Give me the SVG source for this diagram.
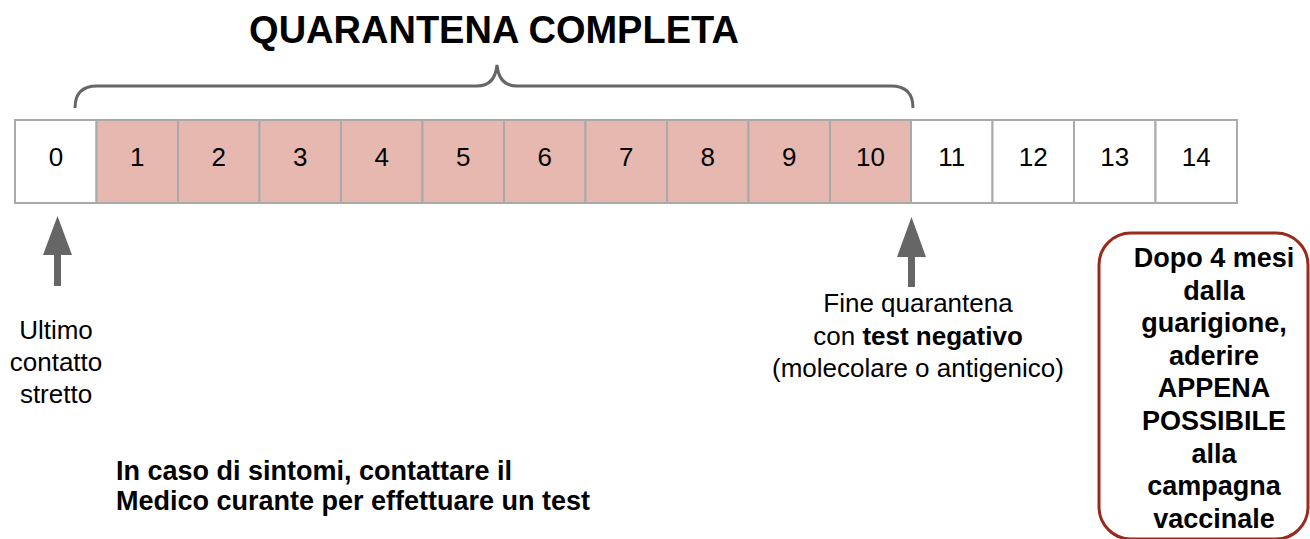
<svg xmlns="http://www.w3.org/2000/svg" width="1310" height="539" viewBox="0 0 1310 539">
<style>
.t{font-family:"Liberation Sans",Arial,sans-serif;fill:#000}
.n{font-size:26px;text-anchor:middle}
.b{font-weight:bold}
.cw{fill:#fff;stroke:#aaa;stroke-width:2}
.cp{fill:#e6b8af;stroke:#aaa;stroke-width:2}
.arr{fill:#666}
</style>
<rect width="1310" height="539" fill="#fff"/>
<g id="title"><text class="t b" x="494" y="43" font-size="38" text-anchor="middle">QUARANTENA COMPLETA</text></g>
<g id="brace"><path d="M75,108 Q75,86 97,86 L477,86 Q495,86 497,65 Q499,86 517,86 L891,86 Q913,86 913,108" fill="none" stroke="#666" stroke-width="3"/></g>
<g id="cells">
<g id="c0"><rect class="cw" x="15" y="120" width="81.5" height="83"/><text class="t n" x="56" y="166">0</text></g>
<g id="c1"><rect class="cp" x="96.5" y="120" width="81.5" height="83"/><text class="t n" x="137.2" y="166">1</text></g>
<g id="c2"><rect class="cp" x="178" y="120" width="81.5" height="83"/><text class="t n" x="218.7" y="166">2</text></g>
<g id="c3"><rect class="cp" x="259.5" y="120" width="81.5" height="83"/><text class="t n" x="300.2" y="166">3</text></g>
<g id="c4"><rect class="cp" x="341" y="120" width="81.5" height="83"/><text class="t n" x="381.7" y="166">4</text></g>
<g id="c5"><rect class="cp" x="422.5" y="120" width="81.5" height="83"/><text class="t n" x="463.2" y="166">5</text></g>
<g id="c6"><rect class="cp" x="504" y="120" width="81.5" height="83"/><text class="t n" x="544.7" y="166">6</text></g>
<g id="c7"><rect class="cp" x="585.5" y="120" width="81.5" height="83"/><text class="t n" x="626.2" y="166">7</text></g>
<g id="c8"><rect class="cp" x="667" y="120" width="81.5" height="83"/><text class="t n" x="707.7" y="166">8</text></g>
<g id="c9"><rect class="cp" x="748.5" y="120" width="81.5" height="83"/><text class="t n" x="789.2" y="166">9</text></g>
<g id="c10"><rect class="cp" x="830" y="120" width="81" height="83"/><text class="t n" x="870.5" y="166">10</text></g>
<g id="c11"><rect class="cw" x="911" y="120" width="81.5" height="83"/><text class="t n" x="951.7" y="166">11</text></g>
<g id="c12"><rect class="cw" x="992.5" y="120" width="81.5" height="83"/><text class="t n" x="1033.2" y="166">12</text></g>
<g id="c13"><rect class="cw" x="1074" y="120" width="81.5" height="83"/><text class="t n" x="1114.7" y="166">13</text></g>
<g id="c14"><rect class="cw" x="1155.5" y="120" width="81.5" height="83"/><text class="t n" x="1196.2" y="166">14</text></g>
</g>
<g id="connectors">
<path class="arr" d="M57.5,216 L72,255 L61,255 L61,286 L54,286 L54,255 L43,255 Z"/>
<path class="arr" d="M911.5,217 L926,257 L915,257 L915,287 L908,287 L908,257 L897,257 Z"/>
</g>
<g id="label-ultimo">
<text class="t n" x="56" y="339">Ultimo</text>
<text class="t n" x="56" y="371">contatto</text>
<text class="t n" x="56" y="403">stretto</text>
</g>
<g id="label-fine">
<text class="t n" x="918" y="312">Fine quarantena</text>
<text class="t n" x="918" y="345">con <tspan class="b">test negativo</tspan></text>
<text class="t n" x="918" y="377">(molecolare o antigenico)</text>
</g>
<g id="note">
<text class="t b" x="116" y="480" font-size="27">In caso di sintomi, contattare il</text>
<text class="t b" x="116" y="510" font-size="27">Medico curante per effettuare un test</text>
</g>
<g id="box">
<rect x="1099" y="233" width="209" height="306" rx="32" ry="32" fill="#fff" stroke="#982b1c" stroke-width="3"/>
<g class="t b" font-size="27" text-anchor="middle">
<text x="1214" y="267">Dopo 4 mesi</text>
<text x="1214" y="300">dalla</text>
<text x="1214" y="332">guarigione,</text>
<text x="1214" y="365">aderire</text>
<text x="1214" y="397">APPENA</text>
<text x="1214" y="430">POSSIBILE</text>
<text x="1214" y="463">alla</text>
<text x="1214" y="495">campagna</text>
<text x="1214" y="528">vaccinale</text>
</g>
</g>
</svg>
